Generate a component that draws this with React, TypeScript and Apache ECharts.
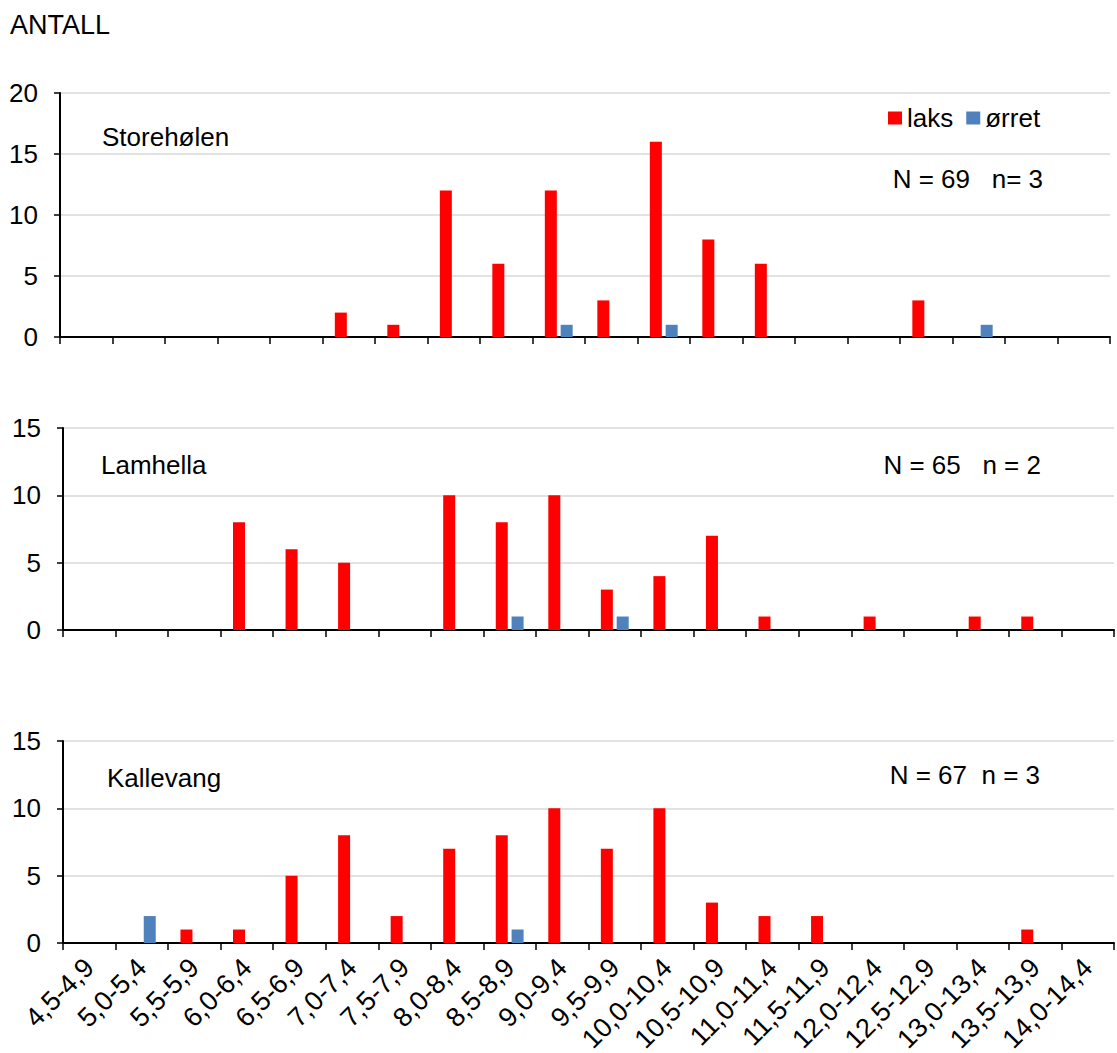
import React, { useEffect, useRef } from "react";
import * as echarts from "echarts";

const categories = [
  "4,5-4,9", "5,0-5,4", "5,5-5,9", "6,0-6,4", "6,5-6,9", "7,0-7,4", "7,5-7,9",
  "8,0-8,4", "8,5-8,9", "9,0-9,4", "9,5-9,9", "10,0-10,4", "10,5-10,9",
  "11,0-11,4", "11,5-11,9", "12,0-12,4", "12,5-12,9", "13,0-13,4", "13,5-13,9", "14,0-14,4",
];

const storeholenLaks = [0, 0, 0, 0, 0, 2, 1, 12, 6, 12, 3, 16, 8, 6, 0, 0, 3, 0, 0, 0];
const storeholenOrret = [0, 0, 0, 0, 0, 0, 0, 0, 0, 1, 0, 1, 0, 0, 0, 0, 0, 1, 0, 0];
const lamhellaLaks = [0, 0, 0, 8, 6, 5, 0, 10, 8, 10, 3, 4, 7, 1, 0, 1, 0, 1, 1, 0];
const lamhellaOrret = [0, 0, 0, 0, 0, 0, 0, 0, 1, 0, 1, 0, 0, 0, 0, 0, 0, 0, 0, 0];
const kallevangLaks = [0, 0, 1, 1, 5, 8, 2, 7, 8, 10, 7, 10, 3, 2, 2, 0, 0, 0, 1, 0];
const kallevangOrret = [0, 2, 0, 0, 0, 0, 0, 0, 1, 0, 0, 0, 0, 0, 0, 0, 0, 0, 0, 0];

const panelNames = ["Storehølen", "Lamhella", "Kallevang"];
const panelCounts = ["N = 69   n= 3", "N = 65   n = 2", "N = 67  n = 3"];
const yMax = [20, 15, 15];

const FONT = "'Liberation Sans', Arial, sans-serif";
const RED = "#ff0000";
const BLUE = "#4f81bd";

export default function App() {
  const ref = useRef<HTMLDivElement>(null);
  useEffect(() => {
    if (!ref.current) return;
    const chart = echarts.init(ref.current, undefined, { renderer: "svg" });
    const grids = [
      { left: 60, top: 93, width: 1050, height: 244, containLabel: false, outerBoundsMode: "none" },
      { left: 63, top: 428, width: 1051, height: 202, containLabel: false, outerBoundsMode: "none" },
      { left: 63, top: 741, width: 1051, height: 202, containLabel: false, outerBoundsMode: "none" },
    ];
    const xAxis = grids.map((_, i) => ({
      type: "category",
      gridIndex: i,
      data: categories,
      boundaryGap: true,
      axisLine: { show: true, lineStyle: { color: "#000", width: 2 } },
      axisTick: { show: true, interval: 0, length: 7, lineStyle: { color: "#000", width: 1.5 } },
      axisLabel: {
        show: i === 2,
        interval: 0,
        rotate: 45,
        margin: 20,
        fontSize: 27,
        color: "#000",
        fontFamily: FONT,
      },
      splitLine: { show: false },
    }));
    const yAxis = grids.map((_, i) => ({
      type: "value",
      gridIndex: i,
      min: 0,
      max: yMax[i],
      interval: 5,
      axisLine: { show: true, lineStyle: { color: "#000", width: 2 } },
      axisTick: { show: true, length: 6, lineStyle: { color: "#000", width: 1.5 } },
      axisLabel: { fontSize: 26, color: "#000", margin: 22, fontFamily: FONT },
      splitLine: { show: true, lineStyle: { color: "#d9d9d9", width: 1.5 } },
    }));
    const laksData = [storeholenLaks, lamhellaLaks, kallevangLaks];
    const orretData = [storeholenOrret, lamhellaOrret, kallevangOrret];
    const series: any[] = [];
    for (let i = 0; i < 3; i++) {
      series.push({
        name: "laks",
        type: "bar",
        xAxisIndex: i,
        yAxisIndex: i,
        data: laksData[i],
        barWidth: 12,
        barGap: "32%",
        itemStyle: { color: RED },
      });
      series.push({
        name: "ørret",
        type: "bar",
        xAxisIndex: i,
        yAxisIndex: i,
        data: orretData[i],
        barWidth: 12,
        barGap: "32%",
        itemStyle: { color: BLUE },
      });
    }
    const titlePos = [
      { x: 102, y: 137 },
      { x: 101, y: 465 },
      { x: 107, y: 778 },
    ];
    const countPos = [
      { x: 1043, y: 179 },
      { x: 1041, y: 465 },
      { x: 1040, y: 775 },
    ];
    const graphic: any[] = [
      {
        type: "text",
        x: 10,
        y: 25,
        style: {
          text: "ANTALL",
          fontSize: 27,
          fill: "#000",
          fontFamily: FONT,
          verticalAlign: "middle",
          align: "left",
        },
      },
    ];
    for (let i = 0; i < 3; i++) {
      graphic.push({
        type: "text",
        x: titlePos[i].x,
        y: titlePos[i].y,
        style: {
          text: panelNames[i],
          fontSize: 26,
          fill: "#000",
          fontFamily: FONT,
          verticalAlign: "middle",
          align: "left",
        },
      });
      graphic.push({
        type: "text",
        x: countPos[i].x,
        y: countPos[i].y,
        style: {
          text: panelCounts[i],
          fontSize: 26,
          fill: "#000",
          fontFamily: FONT,
          verticalAlign: "middle",
          align: "right",
        },
      });
    }
    chart.setOption({
      animation: false,
      backgroundColor: "#fff",
      textStyle: { fontFamily: FONT },
      grid: grids,
      xAxis,
      yAxis,
      series,
      legend: {
        data: ["laks", "ørret"],
        left: 883,
        top: 100,
        icon: "rect",
        itemWidth: 14,
        itemHeight: 13,
        itemGap: 13,
        textStyle: { fontSize: 26, color: "#000", fontFamily: FONT },
      },
      graphic,
    });
    return () => chart.dispose();
  }, []);
  return (
    <div
      ref={ref}
      style={{ position: "absolute", left: 0, top: 0, width: 1117, height: 1053 }}
    />
  );
}
